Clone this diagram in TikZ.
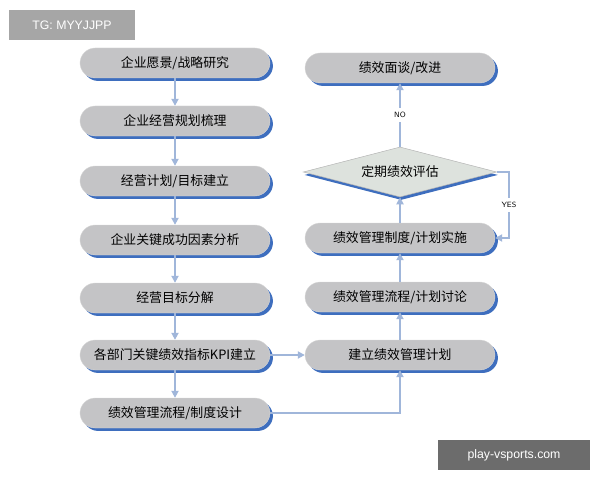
\documentclass[tikz,border=0pt]{standalone}
\usepackage{fontspec}
\setmainfont{Liberation Sans}
\newfontfamily\cjk{Noto Sans CJK SC}
\usetikzlibrary{shapes.geometric,arrows.meta,shadows}
\definecolor{boxgray}{RGB}{196,196,198}
\definecolor{shadowblue}{RGB}{62,110,190}
\definecolor{flowblue}{RGB}{160,182,218}
\tikzset{
  stepbox/.style={rounded corners=13pt, fill=boxgray, minimum width=5.7cm, minimum height=0.9cm,
    font=\cjk\fontsize{11}{13}\selectfont, draw=gray!30, line width=0.3pt,
    copy shadow={shadow xshift=2.5pt, shadow yshift=-2.5pt, fill=shadowblue, draw=none, opacity=1}},
  decide/.style={diamond, aspect=3.8, fill=green!8!gray!25, draw=gray!60, minimum width=5.8cm, minimum height=1.5cm,
    inner sep=0pt, font=\cjk\fontsize{11}{13}\selectfont,
    copy shadow={shadow xshift=1pt, shadow yshift=-2.5pt, fill=shadowblue, draw=none, opacity=1}},
  flow/.style={-{Triangle[width=6pt,length=6pt]}, draw=flowblue, line width=1.6pt},
  tag/.style={font=\fontsize{6.5}{8}\selectfont\sffamily}
}
\begin{document}
\begin{tikzpicture}[x=0.03cm, y=-0.03cm]
\useasboundingbox (0,0) rectangle (600,480);
\fill[white] (0,0) rectangle (600,480);

% watermark tags
\node[fill=gray!70, text=white, minimum width=3.75cm, minimum height=0.9cm, font=\fontsize{10.5}{12}\selectfont] (tg) at (72,25) {TG: MYYJJPP};
\node[fill=gray!85!black, text=white, minimum width=4.55cm, minimum height=0.9cm, font=\fontsize{10.5}{12}\selectfont] (site) at (514,455) {play-vsports.com};

% left column
\node[stepbox] (s1) at (175,63) {企业愿景/战略研究};
\node[stepbox] (s2) at (175,121) {企业经营规划梳理};
\node[stepbox] (s3) at (175,181) {经营计划/目标建立};
\node[stepbox] (s4) at (175,240) {企业关键成功因素分析};
\node[stepbox] (s5) at (175,298) {经营目标分解};
\node[stepbox] (s6) at (175,355) {各部门关键绩效指标KPI建立};
\node[stepbox] (s7) at (175,413) {绩效管理流程/制度设计};

% right column
\node[stepbox] (r1) at (400,355) {建立绩效管理计划};
\node[stepbox] (r2) at (400,297) {绩效管理流程/计划讨论};
\node[stepbox] (r3) at (400,238) {绩效管理制度/计划实施};
\node[decide] (d) at (400,172) {定期绩效评估};
\node[stepbox] (r4) at (400,68) {绩效面谈/改进};

\draw[flow] (s1) -- (s2);
\draw[flow] (s2) -- (s3);
\draw[flow] (s3) -- (s4);
\draw[flow] (s4) -- (s5);
\draw[flow] (s5) -- (s6);
\draw[flow] (s6) -- (s7);
\draw[flow] (s6) -- (r1);
\draw[flow] (s7.east) -| (r1.south);
\draw[flow] (r1) -- (r2);
\draw[flow] (r2) -- (r3);
\draw[flow] (r3) -- (d);
\draw[flow] (d) -- node[fill=white, tag] {NO} (r4);
\draw[flow] (d.east) -| ++(12,0) |- node[pos=0.25, fill=white, tag] {YES} (r3.east);
\end{tikzpicture}
\end{document}
